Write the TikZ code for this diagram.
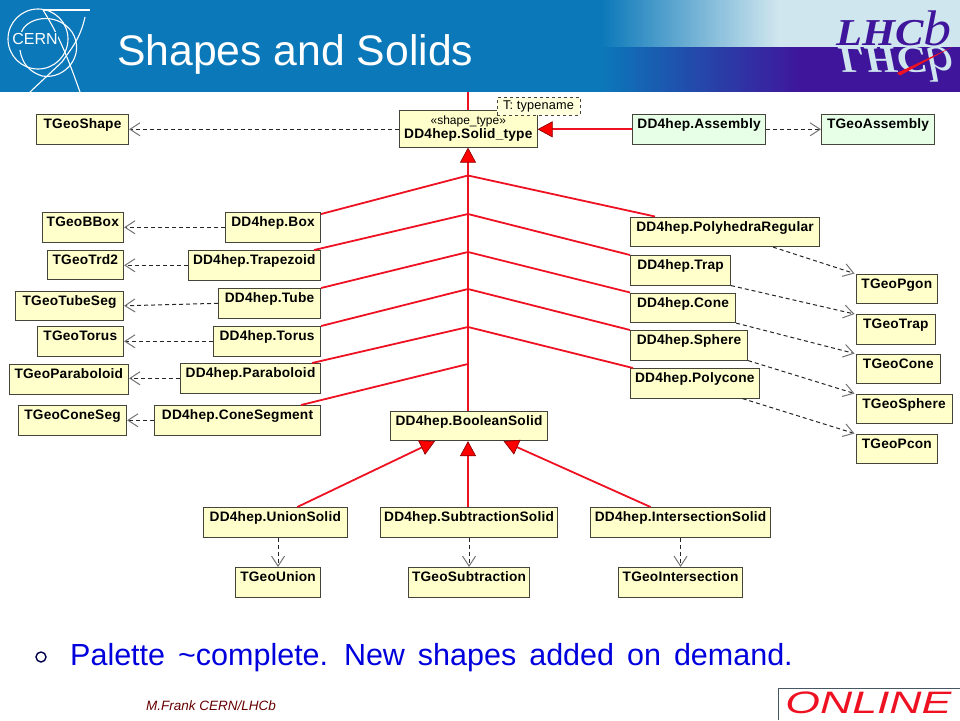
\documentclass[tikz,border=0pt]{standalone}
\usepackage{fontspec}
\setmainfont{Liberation Sans}
\newfontfamily\umlfont[LetterSpace=1.5]{Liberation Sans}
\newfontfamily\logofont{Liberation Serif}
\usetikzlibrary{arrows.meta,shapes.geometric}
\definecolor{headblue}{HTML}{0B78B9}
\definecolor{headpale}{HTML}{CFE6EE}
\definecolor{headpurple}{HTML}{3F159B}
\definecolor{umlyellow}{HTML}{FFFFCC}
\definecolor{umlgreen}{HTML}{E6FFE6}
\definecolor{umlline}{HTML}{44443A}
\definecolor{inhred}{HTML}{EE1122}
\definecolor{slideblue}{HTML}{0000DD}
\tikzset{
  umlbox/.style={draw=umlline, line width=1.1pt, fill=umlyellow, anchor=north west, inner sep=0pt, text height=14pt, text depth=15.5pt, font=\umlfont\bfseries\fontsize{13.7}{16}\selectfont},
  greenbox/.style={umlbox, fill=umlgreen},
  inherit/.style={draw=inhred, line width=1.8pt},
  inherittip/.style={inherit, -{Triangle[length=15pt,width=16pt,color=red!55!black,fill=red,line width=.7pt]}},
  realize/.style={draw=black!85, dashed, dash pattern=on 4pt off 3pt, line width=1pt, -{Straight Barb[length=10pt,width=13pt,color=black!55,line width=1pt]}},
}
\begin{document}
\begin{tikzpicture}[x=1pt,y=-1pt]
\useasboundingbox (0,0) rectangle (960,720);
\fill[headblue] (0,0) rectangle (600,92);
\foreach \i in {0,...,59} {
  \pgfmathsetmacro\mixval{\i/59*100}
  \fill[headpale!\mixval!headblue] ({600+3*\i},0) rectangle ({603.5+3*\i},47);
  \fill[headpurple!\mixval!headblue] ({600+3.4*\i},47) rectangle ({604+3.4*\i},92);
}
\fill[headpale] (780,0) rectangle (960,47);
\fill[headpurple] (800,47) rectangle (960,92);

\draw[white,line width=1.1pt] (38,39) circle (30);
\draw[white,line width=1.1pt] (43,10) -- (90,10);
\draw[white,line width=1.1pt] (43,10) .. controls (62,40) and (72,70) .. (80,92);
\draw[white,line width=1.1pt] (85,17) .. controls (80,40) and (70,50) .. (62,62) -- (30,92);
\draw[white,line width=1.1pt] (21,34) .. controls (24,18) and (56,10) .. (72,32) .. controls (86,54) and (66,80) .. (42,76) .. controls (30,72) and (22,64) .. (20,50);
\node[fill=headblue,text=white,inner sep=.5pt,font=\fontsize{16}{18}\selectfont] (cernlabel) at (35,38.5) {CERN};

\node[anchor=base west,text=white,inner sep=0pt,font=\fontsize{42.7}{46}\selectfont] (title) at (117,65) {Shapes and Solids};

\node[anchor=base west,inner sep=0pt,text=headpale,yscale=-1,xscale=1.12,transform shape,font=\logofont\bfseries\itshape\fontsize{38}{42}\selectfont] (lhcbflip) at (838,47) {LHC\mdseries\fontsize{50}{54}\selectfont b};
\node[anchor=base west,inner sep=0pt,text=headpurple,xscale=1.12,transform shape,font=\logofont\bfseries\itshape\fontsize{38}{42}\selectfont] (lhcb) at (836,45) {LHC\mdseries\fontsize{50}{54}\selectfont b};
\fill[inhred] (952,47) -- (897,73) -- (900,75.5) -- cycle;

\node[umlbox, minimum width=92pt] (tgeoshape) at (36,114) {TGeoShape};
\node[draw=umlline, line width=1.1pt, fill=umlyellow, anchor=north west, inner sep=0pt, minimum width=137.5pt, minimum height=36.5pt, align=center] (solidtype) at (399,110) {{\fontsize{12}{13}\selectfont «shape\_type»}\\[1pt]{\umlfont\bfseries\fontsize{13.7}{15}\selectfont DD4hep.Solid\_type}};
\node[draw=umlline, dashed, line width=1.1pt, fill=umlyellow!70!white, anchor=north west, inner sep=0pt, minimum width=83pt, minimum height=17.5pt, font=\umlfont\fontsize{12.7}{14}\selectfont] (typename) at (496.5,97) {T: typename\hspace{12pt}};
\node[greenbox, minimum width=133pt] (assembly) at (632,114) {DD4hep.Assembly};
\node[greenbox, minimum width=113pt] (tgeoassembly) at (821,114) {TGeoAssembly};

\node[umlbox, minimum width=81.5pt] (tgeobbox) at (41.5,212) {TGeoBBox};
\node[umlbox, minimum width=95pt] (box) at (225,212) {DD4hep.Box};
\node[umlbox, minimum width=76.5pt] (tgeotrd) at (46.5,249.5) {TGeoTrd2};
\node[umlbox, minimum width=132.5pt] (trapezoid) at (187.5,250) {DD4hep.Trapezoid};
\node[umlbox, minimum width=108pt] (tgeotubeseg) at (15,290.5) {TGeoTubeSeg};
\node[umlbox, minimum width=102pt] (tube) at (218,288) {DD4hep.Tube};
\node[umlbox, minimum width=86.5pt] (tgeotorus) at (36.5,326) {TGeoTorus};
\node[umlbox, minimum width=107pt] (torus) at (213,326) {DD4hep.Torus};
\node[umlbox, minimum width=119.5pt] (tgeoparaboloid) at (8.5,364) {TGeoParaboloid};
\node[umlbox, minimum width=140pt] (paraboloid) at (180,363) {DD4hep.Paraboloid};
\node[umlbox, minimum width=108pt] (tgeoconeseg) at (18,405) {TGeoConeSeg};
\node[umlbox, minimum width=166pt] (conesegment) at (154,405) {DD4hep.ConeSegment};

\node[umlbox, minimum width=189pt] (polyhedra) at (630,216.5) {DD4hep.PolyhedraRegular};
\node[umlbox, minimum width=100pt] (trap) at (630,255) {DD4hep.Trap};
\node[umlbox, minimum width=105pt] (cone) at (630,292.5) {DD4hep.Cone};
\node[umlbox, minimum width=117pt] (sphere) at (630,330) {DD4hep.Sphere};
\node[umlbox, minimum width=128.5pt] (polycone) at (630,368) {DD4hep.Polycone};
\node[umlbox, minimum width=81.5pt] (tgeopgon) at (855.5,273.5) {TGeoPgon};
\node[umlbox, minimum width=79.5pt] (tgeotrap) at (855.5,314) {TGeoTrap};
\node[umlbox, minimum width=84.5pt] (tgeocone) at (855.5,353.5) {TGeoCone};
\node[umlbox, minimum width=96pt] (tgeosphere) at (855.5,393.5) {TGeoSphere};
\node[umlbox, minimum width=81.5pt] (tgeopcon) at (855.5,433.5) {TGeoPcon};

\node[umlbox, minimum width=157pt] (booleansolid) at (390,410.5) {DD4hep.BooleanSolid};
\node[umlbox, minimum width=143.5pt] (unionsolid) at (203,507) {DD4hep.UnionSolid};
\node[umlbox, minimum width=177pt] (subtraction) at (380,507) {DD4hep.SubtractionSolid};
\node[umlbox, minimum width=180pt] (intersection) at (590,507) {DD4hep.IntersectionSolid};
\node[umlbox, minimum width=85pt] (tgeounion) at (235,567) {TGeoUnion};
\node[umlbox, minimum width=121pt] (tgeosubtraction) at (408,567) {TGeoSubtraction};
\node[umlbox, minimum width=124pt] (tgeointersection) at (618,567) {TGeoIntersection};

\coordinate (headedge) at (468,92);
\coordinate (fanone) at (468,175.5);
\coordinate (fantwo) at (468,214);
\coordinate (fanthree) at (468,252);
\coordinate (fanfour) at (468,289);
\coordinate (fanfive) at (468,327);
\coordinate (fansix) at (468,364);

\draw[inherit] (headedge |- solidtype.north) -- (headedge);
\draw[inherittip] (headedge |- booleansolid.north) -- (headedge |- solidtype.south);
\draw[inherittip] (assembly.west) -- (solidtype.east |- assembly.west);
\draw[inherit] ([yshift=-2pt]box.north east) -- (fanone);
\draw[inherit] ([xshift=-7pt]trapezoid.north east) -- (fantwo);
\draw[inherit] (tube.north east) -- (fanthree);
\draw[inherit] (torus.north east) -- (fanfour);
\draw[inherit] ([xshift=-9pt]paraboloid.north east) -- (fanfive);
\draw[inherit] ([xshift=-20pt]conesegment.north east) -- (fansix);
\draw[inherit] ([xshift=25pt]polyhedra.north west) -- (fanone);
\draw[inherit] (trap.north west) -- (fantwo);
\draw[inherit] (cone.north west) -- (fanthree);
\draw[inherit] (sphere.north west) -- (fanfour);
\draw[inherit] ([xshift=3pt]polycone.north west) -- (fanfive);

\draw[inherittip] ([xshift=22pt]unionsolid.north) -- ([xshift=-34pt]booleansolid.south);
\draw[inherittip] (headedge |- subtraction.north) -- (headedge |- booleansolid.south);
\draw[inherittip] ([xshift=-30pt]intersection.north) -- ([xshift=34.5pt]booleansolid.south);

\draw[realize] (solidtype.west |- tgeoshape.east) -- (tgeoshape.east);
\draw[realize] (assembly.east) -- (tgeoassembly.west);
\draw[realize] (box.west) -- (tgeobbox.east);
\draw[realize] (trapezoid.west) -- (tgeotrd.east |- trapezoid.west);
\draw[realize] (tube.west) -- (tgeotubeseg.east);
\draw[realize] (torus.west) -- (tgeotorus.east);
\draw[realize] (paraboloid.west) -- (tgeoparaboloid.east |- paraboloid.west);
\draw[realize] (conesegment.west) -- (tgeoconeseg.east);
\draw[realize] ([xshift=48pt]polyhedra.south) -- ([xshift=-1pt]tgeopgon.north west);
\draw[realize] (trap.south east) -- ([xshift=-1pt]tgeotrap.north west);
\draw[realize] (cone.south east) -- ([xshift=-1pt]tgeocone.north west);
\draw[realize] (sphere.south east) -- ([xshift=-1pt]tgeosphere.north west);
\draw[realize] ([xshift=-17pt]polycone.south east) -- ([xshift=-1pt]tgeopcon.north west);
\draw[realize] (unionsolid.south -| tgeounion.north) -- (tgeounion.north);
\draw[realize] (subtraction.south -| tgeosubtraction.north) -- (tgeosubtraction.north);
\draw[realize] (intersection.south -| tgeointersection.north) -- (tgeointersection.north);

\node[circle,draw=black!70!blue,fill=white,line width=1.4pt,minimum size=10pt,inner sep=0pt] (bullet) at (41,657) {};
\node[anchor=base west,inner sep=0pt,text=slideblue,font=\fontsize{30.5}{33}\selectfont] (palette) at (70,665) {\spaceskip=13pt Palette \textasciitilde complete. New shapes added on demand.};
\node[anchor=base west,inner sep=0pt,text=red!40!black,font=\itshape\fontsize{13.5}{15}\selectfont] (footer) at (146,710) {M.Frank CERN/LHCb};
\draw[black!70!cyan,line width=1pt] (960,688) -| (778,720);
\node[anchor=base west,inner sep=0pt,text=inhred,xscale=1.44,transform shape,font=\itshape\fontsize{31}{33}\selectfont] (online) at (785,713.5) {ONLINE};
\end{tikzpicture}
\end{document}
